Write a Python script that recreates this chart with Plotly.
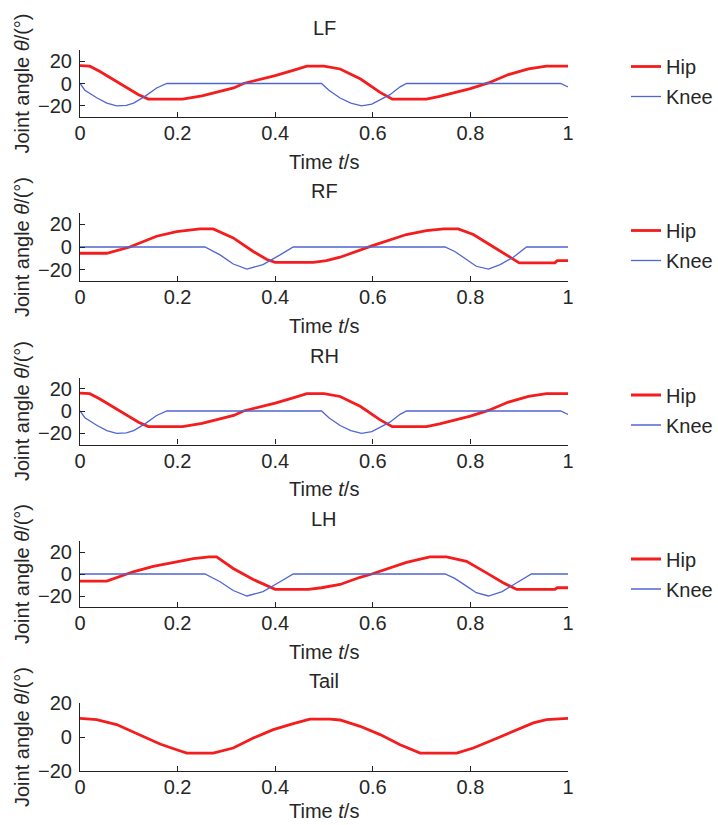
import plotly.graph_objects as go

W, H = 718, 825

# ---------------- data ----------------
lf_hip_t = [0, 0.02, 0.04, 0.09, 0.12, 0.14, 0.21, 0.25, 0.315, 0.335, 0.40, 0.435, 0.465, 0.50,
            0.533, 0.575, 0.615, 0.64, 0.71, 0.737, 0.80, 0.837, 0.878, 0.919, 0.956, 1.0]
lf_hip = [16, 15.5, 11, -2, -10, -14, -14, -11, -4, 0, 7, 11.5, 15.5, 15.5,
          13, 4, -8, -14, -14, -11.5, -4.5, 0.5, 8, 13, 15.5, 15.5]
lf_knee_t = [0, 0.01, 0.035, 0.055, 0.075, 0.095, 0.11, 0.133, 0.157, 0.178, 0.495, 0.51, 0.533,
             0.555, 0.577, 0.598, 0.635, 0.656, 0.669, 0.985, 1.0]
lf_knee = [0, -6, -13, -17.5, -20, -19.5, -17.5, -11.5, -4, 0, 0, -6, -13,
           -17.5, -20, -18.5, -10, -3, 0, 0, -3]

rf_hip_t = [0, 0.055, 0.102, 0.157, 0.198, 0.246, 0.273, 0.314, 0.355, 0.383, 0.40, 0.478, 0.505,
            0.533, 0.598, 0.669, 0.71, 0.745, 0.775, 0.806, 0.84, 0.874, 0.90, 0.973, 0.978, 1.0]
rf_hip = [-5.5, -5.5, 0, 9.5, 13.5, 16, 16, 8, -4, -11, -13.5, -13.5, -12,
          -9, 1, 11, 14.5, 16, 16, 11, 2, -7.5, -14, -14, -12, -12]
rf_knee_t = [0, 0.256, 0.287, 0.314, 0.342, 0.375, 0.41, 0.437, 0.748, 0.768, 0.792, 0.812, 0.837,
             0.861, 0.888, 0.915, 1.0]
rf_knee = [0, 0, -7, -15, -19.5, -15.5, -7, 0, 0, -4, -11, -17, -19.5,
           -15.5, -9, 0, 0]

rh_hip_t = [0, 0.02, 0.04, 0.09, 0.12, 0.14, 0.21, 0.25, 0.315, 0.335, 0.40, 0.435, 0.465, 0.50,
            0.533, 0.575, 0.615, 0.64, 0.71, 0.737, 0.80, 0.837, 0.878, 0.919, 0.956, 1.0]
rh_hip = [16, 15.5, 11, -2, -10, -14, -14, -11, -4, 0, 7, 11.5, 15.5, 15.5,
          13, 4, -8, -14, -14, -11.5, -4.5, 0.5, 8, 13, 15.5, 15.5]
rh_knee_t = [0, 0.01, 0.035, 0.055, 0.075, 0.095, 0.11, 0.133, 0.157, 0.178, 0.495, 0.51, 0.533,
             0.555, 0.577, 0.598, 0.635, 0.656, 0.669, 0.985, 1.0]
rh_knee = [0, -6, -13, -17.5, -20, -19.5, -17.5, -11.5, -4, 0, 0, -6, -13,
           -17.5, -20, -18.5, -10, -3, 0, 0, -3]

lh_hip_t = [0, 0.055, 0.109, 0.15, 0.198, 0.232, 0.265, 0.28, 0.314, 0.355, 0.40, 0.468, 0.495,
            0.533, 0.574, 0.598, 0.669, 0.717, 0.751, 0.792, 0.833, 0.867, 0.895, 0.973, 0.978, 1.0]
lh_hip = [-6.5, -6.5, 2, 7, 11, 14, 15.5, 15.5, 5, -5, -14, -14, -12.5,
          -9.5, -3, 0, 10.5, 15.5, 15.5, 11.5, 1, -8, -14, -14, -12.5, -12.5]
lh_knee_t = [0, 0.256, 0.287, 0.314, 0.342, 0.375, 0.41, 0.437, 0.748, 0.768, 0.792, 0.812, 0.837,
             0.865, 0.895, 0.925, 1.0]
lh_knee = [0, 0, -7, -15, -20, -16, -7, 0, 0, -4, -11, -17, -20,
           -16, -8, 0, 0]

tail_t = [0, 0.034, 0.075, 0.123, 0.164, 0.198, 0.219, 0.273, 0.314, 0.355, 0.396, 0.437, 0.471,
          0.512, 0.533, 0.574, 0.615, 0.656, 0.697, 0.772, 0.806, 0.847, 0.888, 0.929, 0.956, 1.0]
tail = [11, 10.2, 7.3, 1.4, -4.1, -7.5, -9.5, -9.5, -6.5, -0.6, 4.3, 7.9, 10.5,
        10.5, 10, 6.3, 1.4, -4.6, -9.5, -9.5, -6.5, -1.6, 3.3, 8.3, 10.2, 11]

panel_titles = ["LF", "RF", "RH", "LH", "Tail"]
x_ticks = [0, 0.2, 0.4, 0.6, 0.8, 1.0]
x_ticktext = ["0", "0.2", "0.4", "0.6", "0.8", "1"]
y_ticks = [-20, 0, 20]
series_names = ["Hip", "Knee"]
x_label = "Time <i>t</i>/s"
y_label = "Joint angle <i>θ</i>/(°)"

# ---------------- styling / layout ----------------
FONT = "Liberation Sans, Arial, sans-serif"
FS = 20
TXT = "#262626"
RED = "#f41c1c"
BLUE = "#5066d0"

# panel vertical extents in pixels (top, bottom)
panels_px = [(50, 117), (213, 281), (377.5, 444.5), (541, 607), (703, 771)]
xtitle_offset_px = [44.5, 44.5, 44.5, 44.5, 40]
legend_center_px = [81.5, 245.5, 410, 574]
x0_px, x1_px = 80, 568


def py(p):
    return 1 - p / H


def px(p):
    return p / W


fig = go.Figure()

hip_sets = [(lf_hip_t, lf_hip), (rf_hip_t, rf_hip), (rh_hip_t, rh_hip), (lh_hip_t, lh_hip)]
knee_sets = [(lf_knee_t, lf_knee), (rf_knee_t, rf_knee), (rh_knee_t, rh_knee), (lh_knee_t, lh_knee)]
legend_ids = ["legend", "legend2", "legend3", "legend4"]

for i in range(4):
    ax = "" if i == 0 else str(i + 1)
    fig.add_trace(go.Scatter(
        x=hip_sets[i][0], y=hip_sets[i][1], mode="lines", name=series_names[0],
        line=dict(color=RED, width=2.8), xaxis="x" + ax, yaxis="y" + ax,
        legend=legend_ids[i], legendgroup=f"h{i}", hoverinfo="skip"))
    fig.add_trace(go.Scatter(
        x=knee_sets[i][0], y=knee_sets[i][1], mode="lines", name=series_names[1],
        line=dict(color=BLUE, width=1.3), xaxis="x" + ax, yaxis="y" + ax,
        legend=legend_ids[i], legendgroup=f"k{i}", hoverinfo="skip"))

fig.add_trace(go.Scatter(
    x=tail_t, y=tail, mode="lines", name="Tail", showlegend=False,
    line=dict(color=RED, width=2.8), xaxis="x5", yaxis="y5", hoverinfo="skip"))

layout = dict(
    width=W, height=H,
    margin=dict(l=0, r=0, t=0, b=0),
    paper_bgcolor="white", plot_bgcolor="white",
    font=dict(family=FONT, size=FS, color=TXT),
    template="none",
)

annotations = []
for i, (top, bot) in enumerate(panels_px):
    ax = "" if i == 0 else str(i + 1)
    yr = [-30, 30] if i < 4 else [-20, 20]
    layout["xaxis" + ax] = dict(
        domain=[px(x0_px), px(x1_px)], anchor="y" + ax, range=[0, 1],
        tickvals=x_ticks, ticktext=x_ticktext, ticks="inside", ticklen=5,
        tickwidth=1, tickcolor="#222", showline=True, linecolor="#222", linewidth=1.2,
        showgrid=False, zeroline=False, automargin=False,
        tickfont=dict(family=FONT, size=FS, color=TXT), ticklabelstandoff=-2)
    layout["yaxis" + ax] = dict(
        domain=[py(bot), py(top)], anchor="x" + ax, range=yr,
        tickvals=y_ticks, ticks="inside", ticklen=5, tickwidth=1, tickcolor="#222",
        showline=True, linecolor="#222", linewidth=1.2, showgrid=False, zeroline=False,
        automargin=False, tickfont=dict(family=FONT, size=FS, color=TXT),
        ticklabelstandoff=3)
    # panel title
    annotations.append(dict(
        text=panel_titles[i], xref="paper", yref="paper", x=px((x0_px + x1_px) / 2),
        y=py(top - 22), xanchor="center", yanchor="middle", showarrow=False,
        font=dict(family=FONT, size=FS, color=TXT)))
    # x axis title
    annotations.append(dict(
        text=x_label, xref="paper", yref="paper", x=px((x0_px + x1_px) / 2),
        y=py(bot + xtitle_offset_px[i]), xanchor="center", yanchor="middle", showarrow=False,
        font=dict(family=FONT, size=FS, color=TXT)))
    # y axis title
    annotations.append(dict(
        text=y_label, xref="paper", yref="paper", x=px(22),
        y=py((top + bot) / 2), xanchor="center", yanchor="middle", textangle=-90,
        showarrow=False, font=dict(family=FONT, size=FS, color=TXT)))

for i, lid in enumerate(legend_ids):
    layout[lid] = dict(
        x=px(626), xanchor="left", y=py(legend_center_px[i]), yanchor="middle",
        bgcolor="rgba(0,0,0,0)", borderwidth=0, font=dict(family=FONT, size=FS, color=TXT),
        traceorder="grouped", tracegroupgap=1, itemwidth=30)

layout["annotations"] = annotations
fig.update_layout(**layout)

fig.write_html("out.html")
